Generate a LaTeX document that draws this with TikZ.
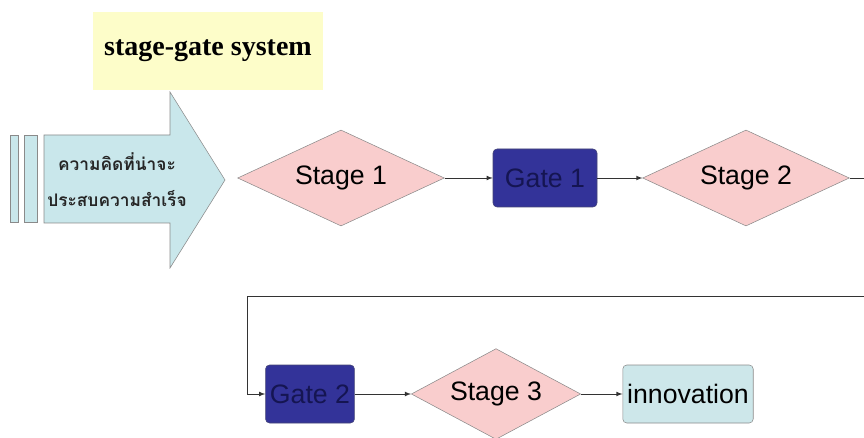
\documentclass[tikz,border=0pt]{standalone}
\usepackage{fontspec}
\setmainfont{Liberation Serif}
\newfontfamily\arialfont{Liberation Sans}
\newfontfamily\thaifont[Script=Thai]{Loma}
\usepackage{xcolor}
\usepackage{tikz}
\usetikzlibrary{shapes.geometric}
\definecolor{stagepink}{HTML}{F9CDCD}
\definecolor{gateblue}{HTML}{333399}
\definecolor{gatetext}{HTML}{151552}
\definecolor{ideacyan}{HTML}{C9E7EB}
\definecolor{innocyan}{HTML}{CDE7EA}
\definecolor{titleyellow}{HTML}{FDFDC9}
\definecolor{edgegray}{HTML}{8A8A8A}

\begin{document}
\begin{tikzpicture}[x=0.75pt,y=-0.75pt,
  stagebox/.style={diamond,draw=edgegray,fill=stagepink,inner sep=0pt,aspect=2.15,
    minimum width=155pt,minimum height=72pt,font=\arialfont\fontsize{20}{24}\selectfont},
  gatebox/.style={rectangle,rounded corners=3pt,draw=gatetext!80,fill=gateblue,
    text=gatetext,minimum height=43.5pt,font=\arialfont\fontsize{20}{24}\selectfont},
  conn/.style={->,>=latex,line width=0.6pt,draw=black!80}]
     \clip (0,0) rectangle (864,438);
     % title
     \node[fill=titleyellow,minimum width=172pt,minimum height=58pt,
       font=\bfseries\fontsize{21}{25}\selectfont] (title) at (208,51) {stage-gate system};
     % idea arrow
     \draw[draw=edgegray,fill=ideacyan] (10,135) rectangle (18,222);
     \draw[draw=edgegray,fill=ideacyan] (24,135) rectangle (37,222);
     \draw[draw=edgegray,fill=ideacyan] (44,135) -- (170,135) -- (170,92) -- (225,180)
       -- (170,268) -- (170,223) -- (44,223) -- cycle;
     \node[align=center,font=\thaifont\bfseries\fontsize{13}{27}\selectfont,
       text=black!85] (idea) at (117,180) {ความคิดที่น่าจะ\\ประสบความสำเร็จ};
     % first row
     \node[stagebox] (s1) at (341,178) {Stage 1};
     \node[gatebox,minimum width=78pt] (g1) at (545,178) {Gate 1};
     \node[stagebox] (s2) at (746,178) {Stage 2};
     % second row
     \node[gatebox,minimum width=64pt] (g2) at (310,394) {Gate 2};
     \node[stagebox,minimum width=127pt,minimum height=68pt] (s3) at (496,394) {Stage 3};
     \node[rectangle,rounded corners=3pt,draw=edgegray,fill=innocyan,minimum width=91pt,
       minimum height=43.5pt,font=\arialfont\fontsize{20}{24}\selectfont] (inno) at (688,394) {innovation};
     % connectors
     \coordinate (turn) at (885,178);
     \coordinate (back) at (247,296);
     \draw[conn] (s1.east) -- (g1.west);
     \draw[conn] (g1.east) -- (s2.west);
     \draw[conn] (s2.east) -- (turn) |- (back) |- (g2.west);
     \draw[conn] (g2.east) -- (s3.west);
     \draw[conn] (s3.east) -- (inno.west);
\end{tikzpicture}
\end{document}
